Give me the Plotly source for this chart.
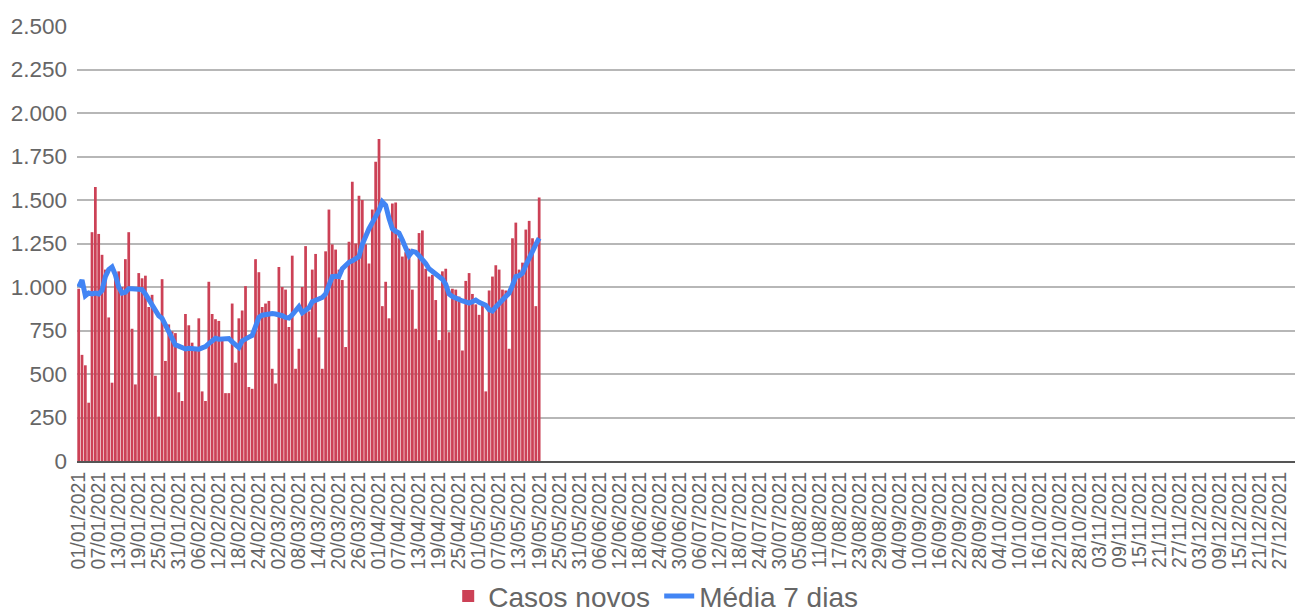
import pandas as pd
import plotly.graph_objects as go

# ---- data -------------------------------------------------------------
all_dates = pd.date_range("2021-01-01", "2021-12-31", freq="D")
date_labels = [d.strftime("%d/%m/%Y") for d in all_dates]

casos_novos = [
    990, 610, 550, 335, 1315, 1575, 1305, 1185, 1100, 825,
    450, 1070, 1090, 1000, 1160, 1315, 760, 440, 1080, 1050,
    1065, 885, 955, 490, 255, 1045, 575, 785, 745, 735,
    395, 345, 845, 780, 680, 650, 820, 400, 345, 1030,
    845, 815, 805, 710, 390, 390, 905, 565, 820, 865,
    1005, 425, 415, 1160, 1085, 885, 905, 920, 530, 445,
    1115, 1000, 985, 770, 1180, 530, 645, 1000, 1235, 860,
    1100, 1190, 710, 530, 1205, 1445, 1245, 1215, 1100, 1040,
    655, 1260, 1605, 1250, 1525, 1500, 1245, 1135, 1445, 1720,
    1850, 890, 1030, 820, 1480, 1485, 1280, 1175, 1200, 1220,
    985, 760, 1310, 1325, 1105, 1060, 1070, 925, 695, 1090,
    1105, 740, 990, 985, 945, 635, 1035, 1080, 960, 900,
    840, 900, 400, 980, 1060, 1125, 1100, 985, 980, 645,
    1280, 1370, 1100, 1140, 1330, 1380, 1280, 890, 1515,
]

media_7_dias = [
    1000, 1040, 950, 965, 960, 965, 960, 980, 1060, 1100,
    1115, 1070, 1000, 965, 970, 990, 990, 990, 990, 985,
    960, 930, 900, 858, 835, 820, 782, 735, 700, 667,
    660, 655, 644, 648, 645, 638, 642, 650, 657, 675,
    695, 705, 700, 700, 702, 704, 685, 668, 652, 690,
    705, 712, 722, 780, 825, 838, 842, 843, 848, 845,
    843, 835, 825, 822, 840, 860, 887, 852, 862, 880,
    915, 925, 934, 940, 960, 1005, 1060, 1062, 1060, 1105,
    1125, 1142, 1150, 1160, 1175, 1245, 1300, 1335, 1370, 1400,
    1440, 1490, 1470, 1395, 1335, 1320, 1310, 1270, 1230, 1180,
    1205, 1200, 1180, 1160, 1135, 1105, 1090, 1075, 1065, 1045,
    1015, 960, 945, 935, 928, 920, 915, 908, 915, 925,
    912, 905, 895, 870, 862, 885, 905, 935, 950, 965,
    1010, 1060, 1065, 1080, 1125, 1170, 1200, 1245, 1280,
]

y_ticks = [0, 250, 500, 750, 1000, 1250, 1500, 1750, 2000, 2250, 2500]
tick_step = 6

# ---- figure -----------------------------------------------------------
x_bars = list(range(len(casos_novos)))
x_line = list(range(len(media_7_dias)))
tick_idx = list(range(0, len(all_dates), tick_step))

fig = go.Figure()
fig.add_trace(go.Bar(
    x=x_bars, y=casos_novos, name="Casos novos",
    marker=dict(color="#cc4156", line=dict(width=0)),
))
fig.add_trace(go.Scatter(
    x=x_line, y=media_7_dias, name="Média 7 dias", mode="lines",
    line=dict(color="#4285f4", width=5),
))

fig.update_layout(
    width=1295, height=616,
    margin=dict(l=77, r=0, t=26, b=155, autoexpand=False),
    paper_bgcolor="white", plot_bgcolor="white",
    separators=",.",
    bargap=0.18,
    font=dict(family="Liberation Sans, Arial, sans-serif", color="#666666"),
    showlegend=True,
    legend=dict(
        orientation="h", x=0.478, xanchor="center",
        yref="container", y=0.032, yanchor="middle",
        font=dict(size=28, color="#666666"), itemwidth=30,
        entrywidth=166, entrywidthmode="pixels",
    ),
)
fig.update_xaxes(
    range=[-0.5, len(all_dates) - 0.5],
    tickmode="array",
    tickvals=tick_idx,
    ticktext=[date_labels[i] for i in tick_idx],
    tickangle=-90,
    tickfont=dict(size=19.5, color="#666666"),
    showgrid=False, zeroline=False,
    showline=True, linecolor="#555555", linewidth=2,
    ticks="", automargin=False, ticklabelstandoff=1,
)
fig.update_yaxes(
    range=[0, 2500],
    tickmode="array", tickvals=y_ticks, tickformat=",d",
    tickfont=dict(size=22.5, color="#666666"),
    showgrid=True, gridcolor="#b7b7b7", gridwidth=1.5,
    zeroline=False, showline=False, ticks="", ticklabelstandoff=9,
    automargin=False,
)

fig.write_html(
    "out.html",
    config={"displayModeBar": False},
    post_script="document.body.style.margin='0';document.body.style.overflow='hidden';",
)
